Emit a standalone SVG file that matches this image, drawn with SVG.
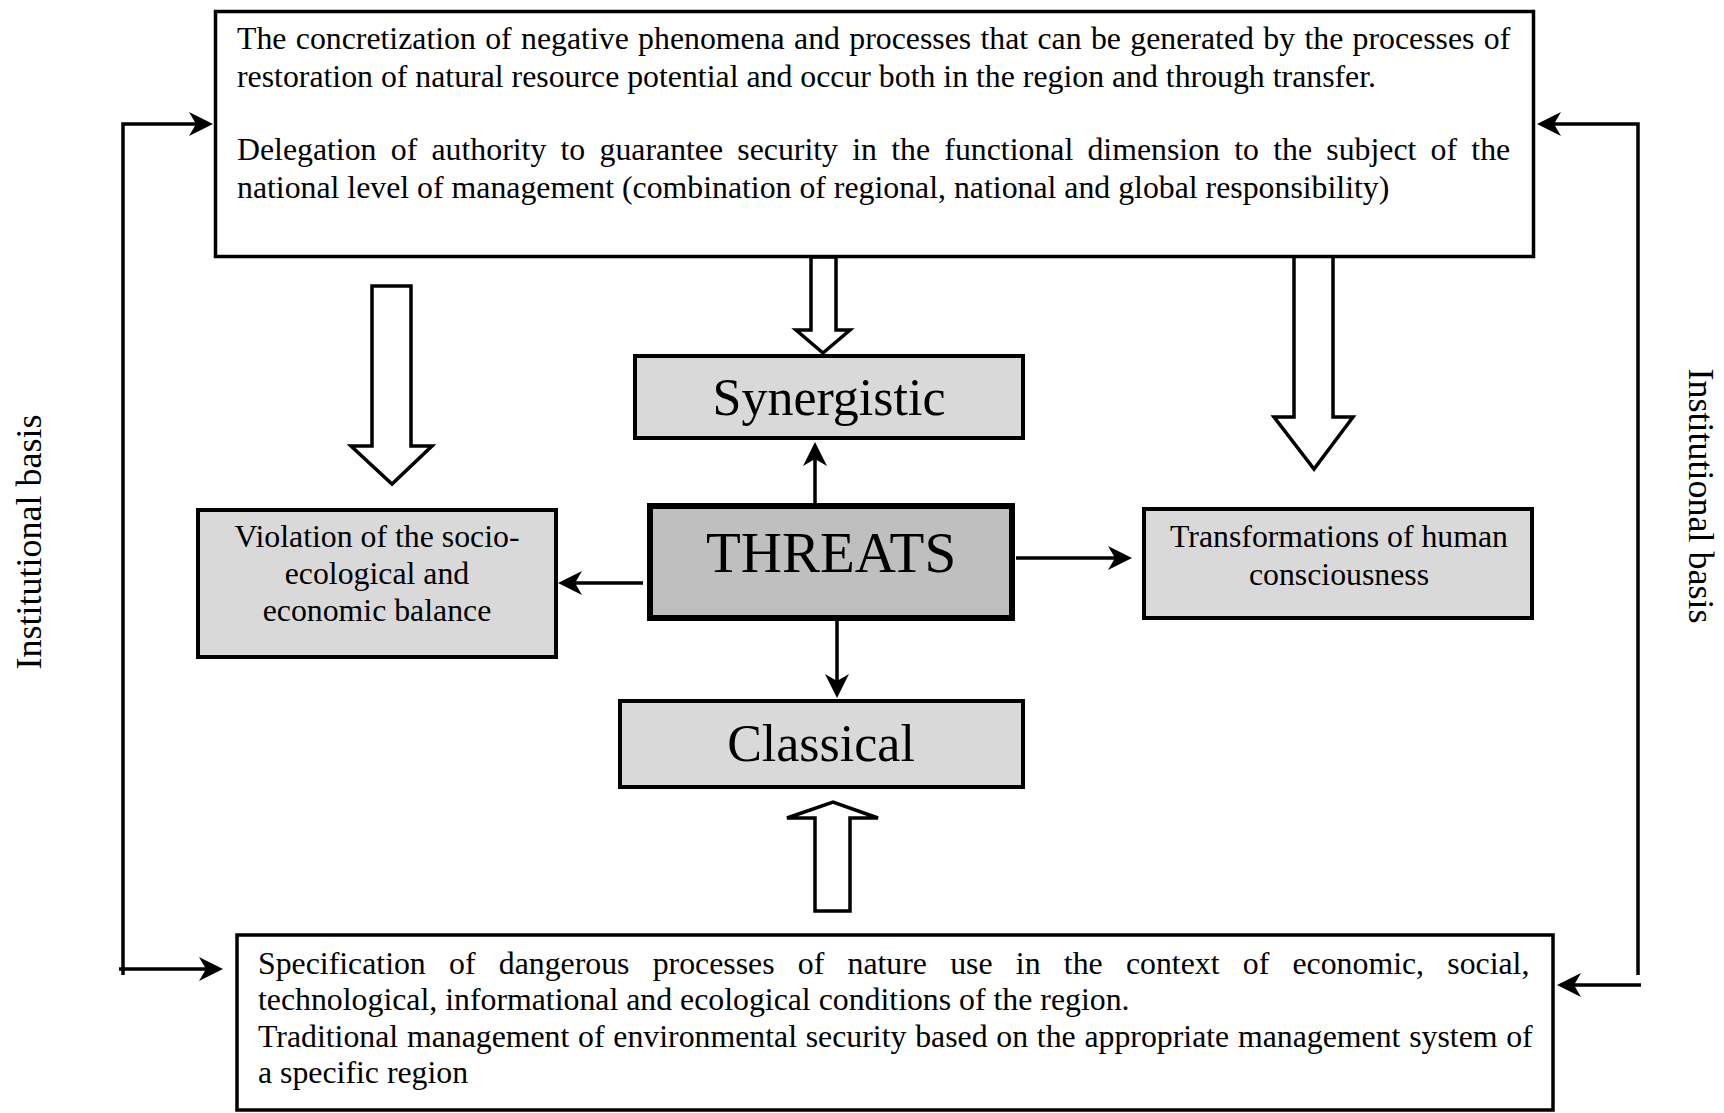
<svg xmlns="http://www.w3.org/2000/svg" width="1724" height="1113" viewBox="0 0 1724 1113">
<style>
  text { font-family: "Liberation Serif", "Times New Roman", serif; fill: #000; }
  .t { font-size: 31.8px; }
  .c { text-anchor: middle; }
  .box { fill: #ffffff; stroke: #000; stroke-width: 3.5; }
  .gbox { fill: #d9d9d9; stroke: #000; stroke-width: 4; }
  .main { fill: #bfbfbf; stroke: #000; stroke-width: 6; }
  .conn { fill: none; stroke: #000; stroke-width: 3.5; marker-end: url(#ah); }
  .hollow { fill: #ffffff; stroke: #000; stroke-width: 3.5; stroke-linejoin: miter; }
  .side { font-size: 36px; text-anchor: middle; }
</style>
<defs>
  <marker id="ah" markerUnits="userSpaceOnUse" viewBox="-22 -13 27 26" markerWidth="27" markerHeight="26" refX="0" refY="0" orient="auto">
    <path d="M4,0 L-20,-12 L-13,0 L-20,12 Z" fill="#000"/>
  </marker>
</defs>
<rect width="1724" height="1113" fill="#ffffff"/>

<g id="connectors">
  <path class="conn" d="M123,975 V124 H209"/>
  <path class="conn" d="M119,969 H219"/>
  <path class="conn" d="M1638,975 V124 H1541"/>
  <path class="conn" d="M1641,985 H1561"/>
  <path class="conn" d="M815,503 V446"/>
  <path class="conn" d="M643,583 H562"/>
  <path class="conn" d="M1016,558 H1128"/>
  <path class="conn" d="M837,621 V694"/>
  <polygon class="hollow" points="811,257 836,257 836,330 850,330 823,353 796,330 811,330"/>
  <polygon class="hollow" points="372,286 411,286 411,446 432,446 392,484 351,446 372,446"/>
  <polygon class="hollow" points="1294,255 1333,255 1333,417 1353,417 1314,469 1274,417 1294,417"/>
  <polygon class="hollow" points="815,911 850,911 850,818 878,818 833,802 787,818 815,818"/>
</g>

<g id="top-box">
  <rect class="box" x="215.5" y="11.5" width="1318" height="245"/>
  <text class="t" x="237" y="49" word-spacing="1.4">The concretization of negative phenomena and processes that can be generated by the processes of</text>
  <text class="t" x="237" y="87">restoration of natural resource potential and occur both in the region and through transfer.</text>
  <text class="t" x="237" y="160" word-spacing="6.3">Delegation of authority to guarantee security in the functional dimension to the subject of the</text>
  <text class="t" x="237" y="198">national level of management (combination of regional, national and global responsibility)</text>
</g>

<g id="synergistic">
  <rect class="gbox" x="635" y="356" width="388" height="82"/>
  <text class="c" x="829" y="415" font-size="52">Synergistic</text>
</g>

<g id="threats">
  <rect class="main" x="650" y="506" width="362" height="112"/>
  <text class="c" x="831" y="572" font-size="57">THREATS</text>
</g>

<g id="violation">
  <rect class="gbox" x="198" y="510" width="358" height="147"/>
  <text class="t c" x="377" y="547">Violation of the socio-</text>
  <text class="t c" x="377" y="584">ecological and</text>
  <text class="t c" x="377" y="621">economic balance</text>
</g>

<g id="transformations">
  <rect class="gbox" x="1144" y="509" width="388" height="109" stroke-width="3.5"/>
  <text class="t c" x="1339" y="547">Transformations of human</text>
  <text class="t c" x="1339" y="585">consciousness</text>
</g>

<g id="classical">
  <rect class="gbox" x="620" y="701" width="403" height="86"/>
  <text class="c" x="821" y="761" font-size="52">Classical</text>
</g>

<g id="bottom-box">
  <rect class="box" x="237" y="935" width="1316" height="175"/>
  <text class="t" x="258" y="974" word-spacing="15.3">Specification of dangerous processes of nature use in the context of economic, social,</text>
  <text class="t" x="258" y="1010">technological, informational and ecological conditions of the region.</text>
  <text class="t" x="258" y="1047" word-spacing="0.8">Traditional management of environmental security based on the appropriate management system of</text>
  <text class="t" x="258" y="1083">a specific region</text>
</g>

<g id="label-left">
  <text class="side" transform="translate(41,542) rotate(-90)">Institutional basis</text>
</g>
<g id="label-right">
  <text class="side" transform="translate(1689,496) rotate(90)">Institutional basis</text>
</g>
</svg>
